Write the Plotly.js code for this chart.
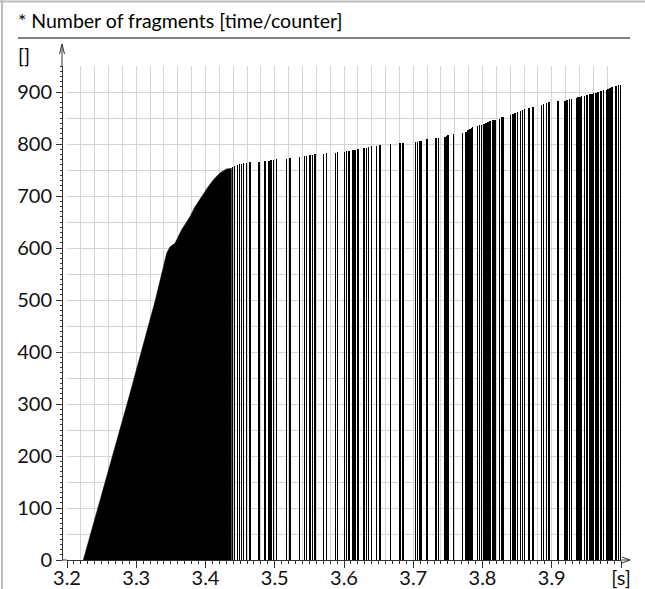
<!DOCTYPE html>
<html>
<head>
<meta charset="utf-8">
<script src="https://cdn.plot.ly/plotly-3.0.1.min.js"></script>
<style>html,body{margin:0;padding:0;background:#fff;}#chart{width:645px;height:589px;}</style>
</head>
<body>
<div id="chart"></div>
<script>
// ---- data ----
const chartTitle = '* Number of fragments [time/counter]';
const yUnitLabel = '[]';

// dense (solid) part: envelope of the counter, time [s] / count
const denseTimes  = [3.2236, 3.2885, 3.3277, 3.3440, 3.3487, 3.3560, 3.3656, 3.3776, 3.3848, 3.3968, 3.4040, 3.4113, 3.4209, 3.4306, 3.4378];
const denseCounts = [0,      308,    500,    590,    602,    609,    635,    660,    679,    705,    718,    731,    744,    752,    753];

// individual fragment events visible as separate lines
const spikeTimes = [3.4393,3.4420,3.4460,3.4489,3.4522,3.4551,3.4595,3.4643,3.4773,3.4859,3.4917,3.4946,3.4979,3.5028,3.5172,3.5220,3.5355,3.5427,3.5461,3.5509,3.5542,3.5581,3.5701,3.5750,3.5880,3.5909,3.6004,3.6039,
  3.6070,3.6130,3.6160,3.6200,3.6290,3.6320,3.6350,3.6400,3.6470,3.6520,3.6670,3.6810,3.6850,3.7030,3.7060,3.7090,3.7110,3.7200,3.7330,3.7360,3.7460,3.7480,3.7500,3.7580,3.7710,3.7760,3.7790,3.7820,3.7840,3.7860,
  3.7930,3.7960,3.7990,3.8020,3.8050,3.8080,3.8110,3.8150,3.8180,3.8250,3.8280,3.8300,3.8400,3.8440,3.8470,3.8510,3.8550,3.8580,3.8610,3.8670,3.8730,3.8850,3.8880,3.8920,3.8960,3.9090,
  3.9190,3.9220,3.9260,3.9290,3.9360,3.9380,3.9410,3.9430,3.9470,3.9500,3.9520,3.9550,3.9580,3.9600,3.9640,3.9670,3.9710,3.9750,3.9790,3.9810,3.9840,3.9870,3.9930,3.9960,3.9990];
const spikeCounts = [755,757,760,761,762,763,764,765,766,767,768,769,770,771,772,773,775,776,777,778,779,780,781,782,783,784,785,786,
  787,788,789,790,792,793,795,796,797,798,800,801,802,803,804,805,806,809,811,812,814,816,817,820,822,824,826,828,830,832,
  835,836,837,838,840,843,845,846,847,849,851,852,856,858,860,862,864,866,867,870,872,875,877,879,881,882,
  883,884,886,887,889,890,891,892,893,894,895,896,897,898,899,900,902,903,904,905,907,909,912,913,914];

const xTickVals = [3.2, 3.3, 3.4, 3.5, 3.6, 3.7, 3.8, 3.9, 4.0];
const xTickText = ['3.2', '3.3', '3.4', '3.5', '3.6', '3.7', '3.8', '3.9', '[s]'];
const yTickVals = [0, 100, 200, 300, 400, 500, 600, 700, 800, 900];
const yTickText = ['0', '100', '200', '300', '400', '500', '600', '700', '800', '900'];

// ---- layout geometry (pixels) ----
const W = 645, H = 589;
const L = 62, R = 621, T = 66, B = 560;
const PW = R - L, PH = B - T;
const GX = 67; // left edge of the grid (x = 3.2)
const px = v => (v - L) / PW;
const py = v => (B - v) / PH;

const FONT = 'Lato, "Open Sans", sans-serif';
const gridCol = '#d4d4d4';
const axisCol = '#333333';

const traces = [
  { type: 'scatter', mode: 'lines', x: denseTimes, y: denseCounts, fill: 'tozeroy',
    fillcolor: '#000', line: { color: '#000', width: 0.6 }, hoverinfo: 'skip', showlegend: false },
  { type: 'bar', x: spikeTimes, y: spikeCounts, width: 0.0019,
    marker: { color: '#000', line: { width: 0 } }, hoverinfo: 'skip', showlegend: false },
  { type: 'scatter', mode: 'markers', x: [], y: [], xaxis: 'x2', yaxis: 'y2', showlegend: false, hoverinfo: 'skip' }
];

const arrowUp = (x, y) => `M ${px(x-2.5)} ${py(y+10)} L ${px(x)} ${py(y)} L ${px(x+2.5)} ${py(y+10)}`;
const arrowRight = (x, y) => `M ${px(x-8)} ${py(y-3)} L ${px(x)} ${py(y)} L ${px(x-8)} ${py(y+3)}`;

const layout = {
  width: W, height: H,
  margin: { l: L, r: W - R, t: T, b: H - B, pad: 0 },
  paper_bgcolor: '#fff', plot_bgcolor: '#fff',
  showlegend: false,
  bargap: 0,
  font: { family: FONT, size: 20, color: '#111' },
  xaxis: { domain: [px(GX), 1], range: [3.2, 4.0], tick0: 3.2, dtick: 0.02, showgrid: true, gridcolor: gridCol, gridwidth: 1,
           showticklabels: false, ticks: '', zeroline: false, showline: false, fixedrange: true },
  yaxis: { range: [0, 950], tick0: 0, dtick: 50, showgrid: true, gridcolor: gridCol, gridwidth: 1,
           showticklabels: false, ticks: '', zeroline: false, showline: false, fixedrange: true },
  xaxis2: { overlaying: 'x', anchor: 'y2', domain: [px(GX), 1], range: [3.2, 4.0], tickmode: 'array', tickvals: xTickVals, ticktext: xTickText,
            ticks: 'outside', ticklen: 7, tickcolor: axisCol, tickwidth: 1, ticklabelstandoff: -7,
            minor: { tick0: 3.2, dtick: 0.01, ticks: 'outside', ticklen: 3, tickcolor: axisCol, showgrid: false },
            showgrid: false, zeroline: false, showline: true, linecolor: axisCol, linewidth: 1,
            tickfont: { family: FONT, size: 20, color: '#111' }, fixedrange: true },
  yaxis2: { overlaying: 'y', anchor: 'free', position: 0, range: [0, 950], tickmode: 'array', tickvals: yTickVals, ticktext: yTickText,
            ticks: 'outside', ticklen: 6, tickcolor: axisCol, tickwidth: 1,
            minor: { tick0: 0, dtick: 10, ticks: 'outside', ticklen: 2, tickcolor: axisCol, showgrid: false },
            showgrid: false, zeroline: false, showline: true, linecolor: axisCol, linewidth: 1,
            tickfont: { family: FONT, size: 20, color: '#111' }, fixedrange: true },
  shapes: [
    { type: 'line', xref: 'paper', yref: 'paper', x0: 0, x1: 0, y0: 1, y1: py(44), line: { color: axisCol, width: 1 } },
    { type: 'path', xref: 'paper', yref: 'paper', path: arrowUp(L, 44), line: { color: axisCol, width: 1 } },
    { type: 'line', xref: 'paper', yref: 'paper', x0: 0, x1: px(GX), y0: 0, y1: 0, line: { color: axisCol, width: 1 } },
    { type: 'line', xref: 'paper', yref: 'paper', x0: 1, x1: px(630), y0: 0, y1: 0, line: { color: axisCol, width: 1 } },
    { type: 'path', xref: 'paper', yref: 'paper', path: arrowRight(630, B), line: { color: axisCol, width: 1 } },
    { type: 'line', xref: 'paper', yref: 'paper', x0: px(18), x1: px(630), y0: py(38), y1: py(38), line: { color: '#000', width: 1 } },
    { type: 'line', xref: 'paper', yref: 'paper', x0: px(2), x1: px(2), y0: py(H), y1: py(0), line: { color: '#bdbdbd', width: 2 } },
    { type: 'line', xref: 'paper', yref: 'paper', x0: px(0), x1: px(W), y0: py(1.5), y1: py(1.5), line: { color: '#bdbdbd', width: 2 } }
  ],
  annotations: [
    { text: chartTitle, xref: 'paper', yref: 'paper', x: px(16), y: py(21), xanchor: 'left', yanchor: 'middle', showarrow: false,
      font: { family: FONT, size: 19.5, color: '#000' } },
    { text: yUnitLabel, xref: 'paper', yref: 'paper', x: px(16), y: py(55), xanchor: 'left', yanchor: 'middle', showarrow: false,
      font: { family: FONT, size: 19.5, color: '#000' } }
  ]
};

Plotly.newPlot('chart', traces, layout, { staticPlot: true, displayModeBar: false });
</script>
</body>
</html>
